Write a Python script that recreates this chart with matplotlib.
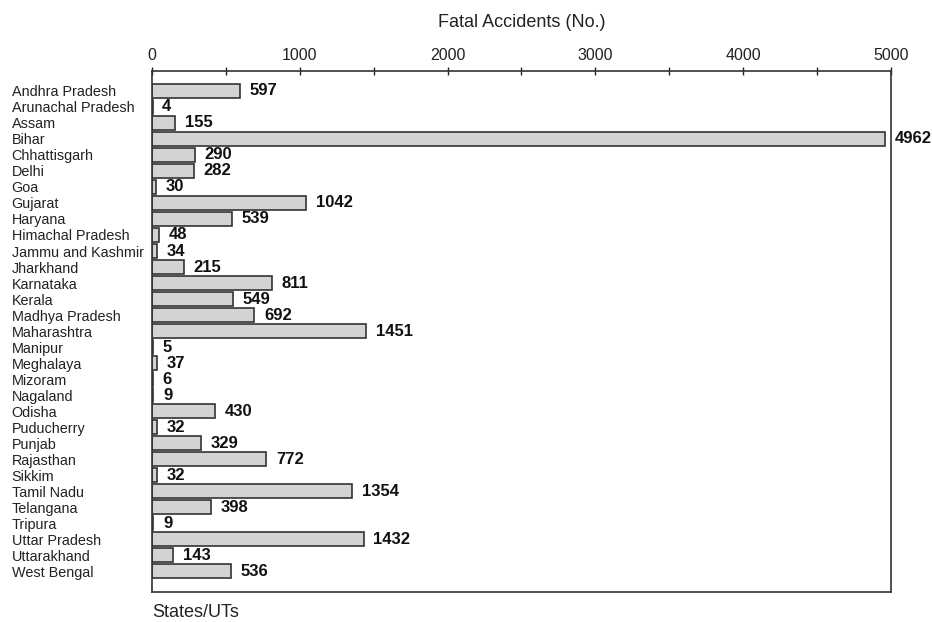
import matplotlib
matplotlib.use('Agg')
import matplotlib.pyplot as plt
from matplotlib.ticker import MultipleLocator

plt.rcParams['font.family'] = ['Liberation Sans', 'DejaVu Sans']

states = ['Andhra Pradesh', 'Arunachal Pradesh', 'Assam', 'Bihar', 'Chhattisgarh',
          'Delhi', 'Goa', 'Gujarat', 'Haryana', 'Himachal Pradesh',
          'Jammu and Kashmir', 'Jharkhand', 'Karnataka', 'Kerala', 'Madhya Pradesh',
          'Maharashtra', 'Manipur', 'Meghalaya', 'Mizoram', 'Nagaland',
          'Odisha', 'Puducherry', 'Punjab', 'Rajasthan', 'Sikkim',
          'Tamil Nadu', 'Telangana', 'Tripura', 'Uttar Pradesh', 'Uttarakhand',
          'West Bengal']
fatal = [597, 4, 155, 4962, 290, 282, 30, 1042, 539, 48,
         34, 215, 811, 549, 692, 1451, 5, 37, 6, 9,
         430, 32, 329, 772, 32, 1354, 398, 9, 1432, 143,
         536]

fig = plt.figure(figsize=(9.32, 6.22), dpi=100)
ax = fig.add_axes([0.163, 0.048, 0.793, 0.838])

ypos = list(range(len(states)))
ax.barh(ypos, fatal, height=0.85, color='#d3d3d3', edgecolor='#333333', linewidth=1.2)

for y, v in zip(ypos, fatal):
    ax.annotate(str(v), (v, y), xytext=(7, 0), textcoords='offset points',
                va='center', ha='left', fontsize=12, fontweight='bold', color='#111111',
                annotation_clip=False)

ax.set_xlim(0, 5000)
ax.set_ylim(len(states) - 1 + 1.31, -1.25)

ax.xaxis.tick_top()
ax.xaxis.set_label_position('top')
ax.xaxis.set_major_locator(MultipleLocator(1000))
ax.xaxis.set_minor_locator(MultipleLocator(500))
ax.tick_params(axis='x', which='both', direction='inout', length=6, width=1,
               labelsize=11.5, pad=3, colors='#222222')
ax.set_xlabel('Fatal Accidents (No.)', fontsize=13, labelpad=15, color='#222222')

ax.set_yticks(ypos)
ax.set_yticklabels(states, ha='left', fontsize=10.4, color='#222222')
ax.tick_params(axis='y', length=0, pad=101)

for s in ax.spines.values():
    s.set_color('#333333')
    s.set_linewidth(1.2)

fig.text(0.163, 0.016, 'States/UTs', fontsize=13, ha='left', va='center', color='#222222')

fig.savefig('out.png', dpi=100)
